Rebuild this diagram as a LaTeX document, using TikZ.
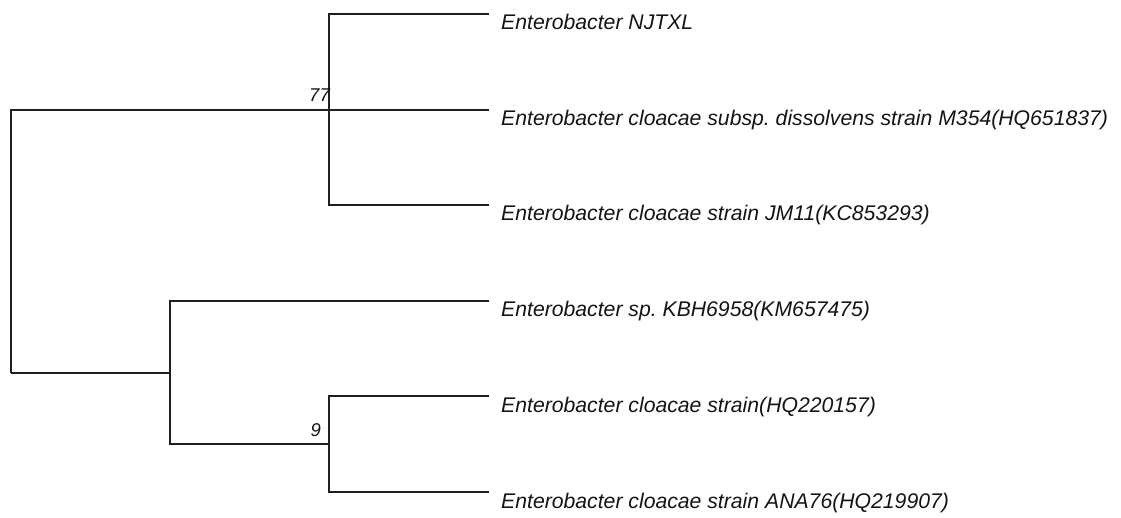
\documentclass[tikz,border=0pt]{standalone}
\usepackage{fontspec}
\setmainfont{Liberation Sans}
\frenchspacing
\begin{document}
\begin{tikzpicture}[x=1pt,y=-1pt,
  br/.style={line width=1.3pt, draw=black!88},
  leaf/.style={anchor=base west, inner sep=0pt, font=\fontsize{21.2}{25}\selectfont\itshape, text=black!92},
  boot/.style={anchor=base east, inner sep=0pt, font=\fontsize{18.5}{20}\selectfont\itshape, text=black!92}]
\useasboundingbox (0,0) rectangle (1121,518);
% branch points
\coordinate (root) at (11,110);
\coordinate (rootlow) at (11,373);
\coordinate (a) at (329,110);
\coordinate (a1) at (329,14);
\coordinate (a3) at (329,205);
\coordinate (b) at (170,373);
\coordinate (b1) at (170,301);
\coordinate (b2) at (170,444);
\coordinate (c) at (329,444);
\coordinate (c1) at (329,396);
\coordinate (c2) at (329,492);
% tips
\coordinate (t1) at (489,14);
\coordinate (t2) at (489,110);
\coordinate (t3) at (489,205);
\coordinate (t4) at (489,301);
\coordinate (t5) at (489,396);
\coordinate (t6) at (489,492);
% branches
\draw[br] (rootlow) -- (root) -- (a) -- (t2);
\draw[br] (t1) -- (a1) -- (a3) -- (t3);
\draw[br] (rootlow) -- (b);
\draw[br] (t4) -- (b1) -- (b2) -- (c);
\draw[br] (t5) -- (c1) -- (c2) -- (t6);
% leaf labels
\node[leaf] (l1) at (501,30) {Enterobacter NJTXL};
\node[leaf] (l2) at (501,126) {Enterobacter cloacae subsp. dissolvens strain M354(HQ651837)};
\node[leaf] (l3) at (501,221) {Enterobacter cloacae strain JM11(KC853293)};
\node[leaf] (l4) at (501,317) {Enterobacter sp. KBH6958(KM657475)};
\node[leaf] (l5) at (501,412) {Enterobacter cloacae strain(HQ220157)};
\node[leaf] (l6) at (501,508) {Enterobacter cloacae strain ANA76(HQ219907)};
% bootstrap values
\node[boot] (s77) at (330,101.5) {77};
\node[boot] (s9) at (321,436) {9};
\end{tikzpicture}
\end{document}
